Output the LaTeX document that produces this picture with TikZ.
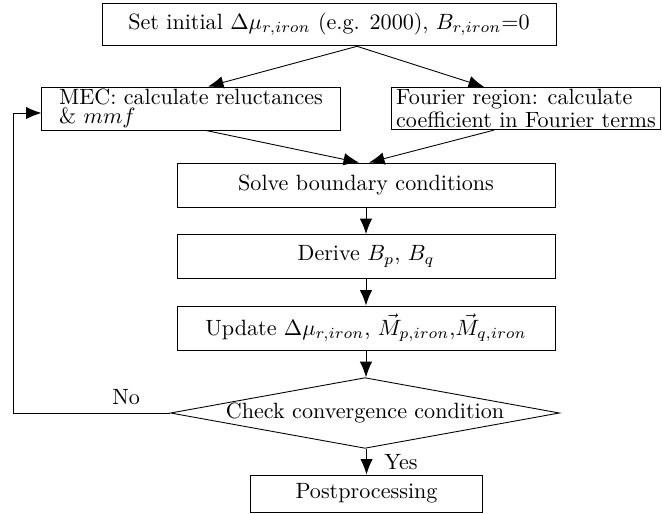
\documentclass[tikz,border=0pt]{standalone}
\usepackage{amsmath}
\usepackage{amssymb}
\usetikzlibrary{calc}
\usetikzlibrary{arrows.meta}
\usetikzlibrary{shapes.geometric}
\tikzset{>={Latex[length=7pt,width=5.6pt]}}
\tikzstyle{block} = [rectangle, draw=black, inner sep=0, minimum height=0.70cm]
\tikzstyle{twoline} = [rectangle, draw=black, align=left, inner xsep=2pt, inner ysep=1pt, font=\fontsize{10}{8.5}\selectfont]
\tikzstyle{decide} = [diamond, draw=black, aspect=5.5, inner sep=0]

\begin{document}
\begin{tikzpicture}[x=0.0159cm, y=-0.0159cm]
\useasboundingbox (0,0) rectangle (662,513);
\node [block, minimum width=7.22cm, minimum height=0.68cm] (init) at (329,24.5) {Set initial $\Delta\mu_{r,iron}$ (e.g. 2000), $B_{r,iron}$=0};
\node [twoline, minimum width=4.74cm, minimum height=0.59cm] (mec) at (191,108.5) {MEC: calculate reluctances\\\& $mmf$};
\node [twoline, minimum width=4.25cm, minimum height=0.59cm] (four) at (526,108.5) {Fourier region: calculate\\coefficient in Fourier terms};
\node [block, minimum width=6.01cm] (solve) at (366,185) {Solve boundary conditions};
\node [block, minimum width=6.01cm] (derive) at (366,256.5) {Derive $B_p$, $B_q$};
\node [block, minimum width=6.01cm] (update) at (366,328) {Update $\Delta\mu_{r,iron}$, $\vec{M}_{p,iron}$,$\vec{M}_{q,iron}$};
\node [decide, minimum width=6.11cm, minimum height=1.11cm] (check) at (365,413) {Check convergence condition};
\node [block, minimum width=3.70cm, minimum height=0.59cm] (post) at (366.5,493.5) {Postprocessing};
\coordinate (back) at (13,413);
% split into the two regions
\draw [->] ($(init.south)+(28,0)$) to ($(mec.north)+(17,0)$);
\draw [->] ($(init.south)+(28,0)$) to ($(four.north)+(-42,0)$);
\draw [->] ($(mec.south)+(15,0)$) to ($(solve.north)+(-7,0)$);
\draw [->] ($(four.south)+(-32,0)$) to ($(solve.north)+(3,0)$);
\draw [->] (solve) to (derive);
\draw [->] (derive) to (update);
\draw [->] (update.south) to (update.south |- check.north);
\draw [->] (check.south -| post.north) to node [right=4.5pt] {Yes} (post);
% iterate again
\draw [->] (check.west) -- node [pos=0.28, above] {No} (back) |- ($(mec.west)+(0,4.5)$);
\end{tikzpicture}
\end{document}
